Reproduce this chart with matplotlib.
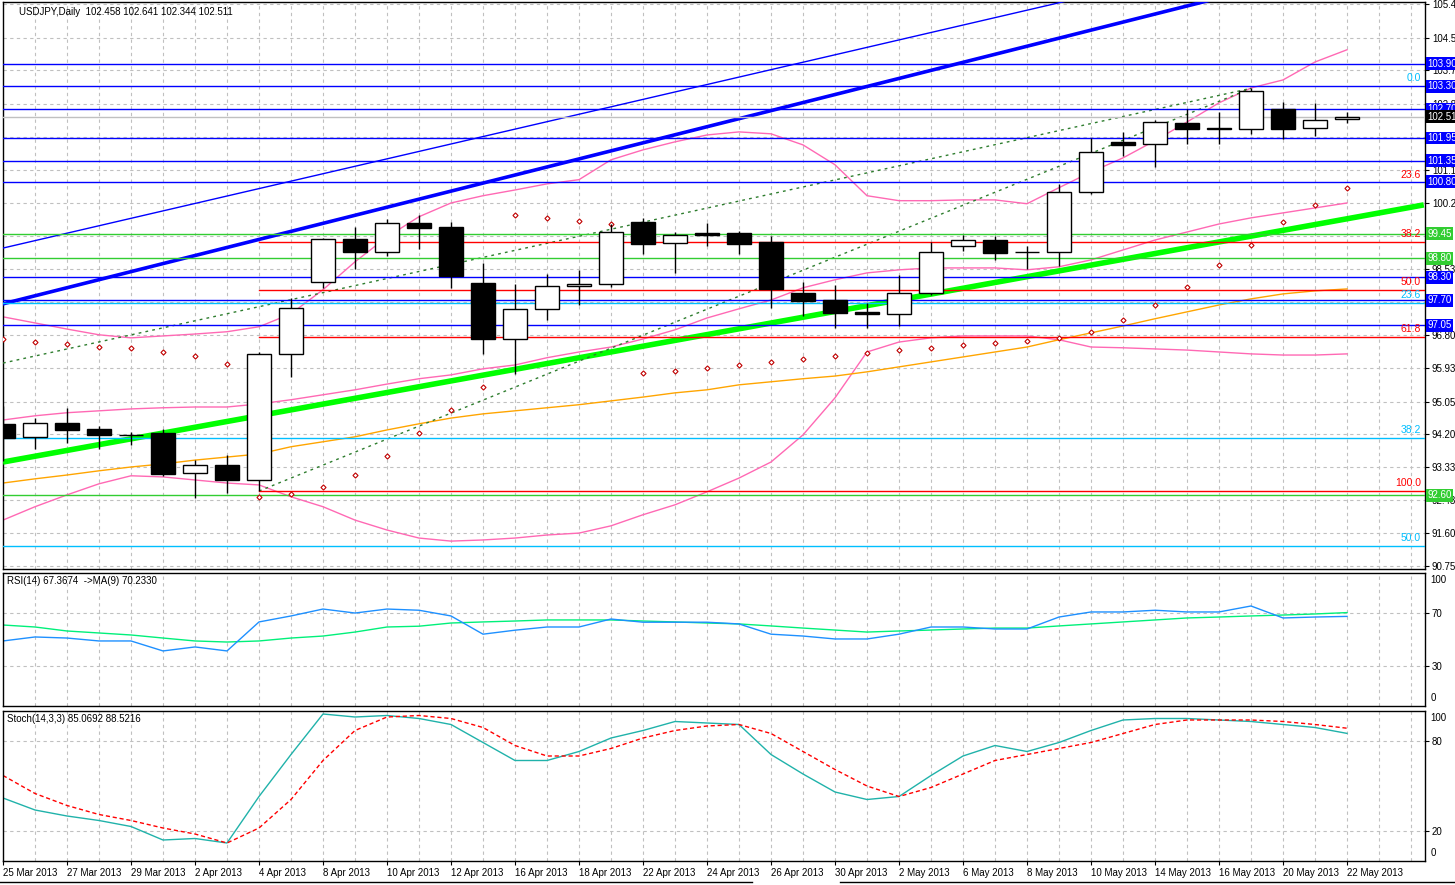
import matplotlib
matplotlib.use("Agg")
import matplotlib.pyplot as plt
import numpy as np
from matplotlib.transforms import blended_transform_factory as blend
from matplotlib.lines import Line2D

plt.rcParams['font.family'] = ['Liberation Sans', 'DejaVu Sans']

# USDJPY daily bars, 25 Mar 2013 .. 22 May 2013
opens = [94.46, 94.12, 94.49, 94.33, 94.18, 94.23, 93.18, 93.39, 93.00, 96.30,
         98.18, 99.30, 98.96, 99.72, 99.62, 98.15, 96.69, 97.47, 98.07, 98.13,
         99.75, 99.20, 99.46, 99.46, 99.22, 97.89, 97.71, 97.40, 97.34, 97.89,
         99.12, 99.28, 98.96, 98.96, 100.53, 101.84, 101.79, 102.34, 102.20, 102.18,
         102.70, 102.21, 102.458]
highs = [94.94, 94.62, 94.88, 94.41, 94.26, 94.33, 93.52, 93.65, 96.35, 97.76,
         99.33, 99.62, 99.83, 99.93, 99.75, 98.68, 98.13, 98.39, 98.49, 99.70,
         99.85, 99.49, 99.72, 99.51, 99.38, 98.18, 98.10, 97.63, 98.36, 99.22,
         99.41, 99.38, 99.12, 100.74, 101.95, 102.10, 102.42, 102.70, 102.63, 103.25,
         102.89, 102.86, 102.641]
lows = [93.50, 93.81, 93.97, 93.81, 93.92, 93.10, 92.53, 92.66, 92.71, 95.69,
        98.02, 98.52, 98.86, 99.04, 98.02, 96.30, 95.77, 97.18, 97.58, 98.05,
        98.91, 98.41, 99.12, 98.91, 97.50, 97.29, 96.98, 96.98, 97.03, 97.84,
        98.99, 98.75, 98.52, 98.60, 100.48, 101.47, 101.19, 101.79, 101.79, 102.05,
        101.92, 101.99, 102.344]
closes = [94.10, 94.49, 94.31, 94.18, 94.18, 93.16, 93.39, 93.00, 96.30, 97.50,
          99.30, 98.96, 99.72, 99.59, 98.34, 96.69, 97.47, 98.07, 98.13, 99.49,
          99.17, 99.41, 99.41, 99.17, 97.99, 97.68, 97.37, 97.34, 97.89, 98.96,
          99.28, 98.94, 98.96, 100.53, 101.58, 101.76, 102.36, 102.18, 102.18, 103.17,
          102.18, 102.42, 102.511]

bb_upper = [97.27, 97.11, 96.95, 96.80, 96.72, 96.77, 96.82, 96.88, 97.01, 97.35,
            97.98, 98.71, 99.36, 99.89, 100.25, 100.44, 100.59, 100.75, 100.86, 101.38,
            101.64, 101.85, 102.03, 102.11, 102.06, 101.77, 101.25, 100.44, 100.31, 100.31,
            100.33, 100.33, 100.23, 100.65, 101.06, 101.43, 101.88, 102.37, 102.87, 103.26,
            103.47, 103.94, 104.26]
bb_middle = [94.57, 94.68, 94.76, 94.81, 94.86, 94.89, 94.91, 94.91, 94.99, 95.10,
             95.23, 95.36, 95.51, 95.65, 95.75, 95.91, 96.01, 96.20, 96.35, 96.48,
             96.69, 96.93, 97.24, 97.48, 97.71, 98.03, 98.24, 98.42, 98.50, 98.55,
             98.55, 98.55, 98.50, 98.58, 98.76, 99.02, 99.28, 99.49, 99.70, 99.86,
             99.99, 100.12, 100.25]
bb_lower = [91.95, 92.30, 92.61, 92.90, 93.11, 93.08, 93.00, 92.92, 92.87, 92.56,
            92.30, 91.95, 91.69, 91.48, 91.40, 91.43, 91.48, 91.56, 91.61, 91.80,
            92.09, 92.35, 92.69, 93.05, 93.47, 94.18, 95.15, 96.35, 96.61, 96.72,
            96.77, 96.77, 96.77, 96.67, 96.48, 96.46, 96.43, 96.40, 96.35, 96.30,
            96.27, 96.27, 96.30]
ma_slow = [92.92, 93.03, 93.13, 93.24, 93.34, 93.42, 93.52, 93.60, 93.68, 93.87,
           94.00, 94.13, 94.31, 94.47, 94.62, 94.73, 94.81, 94.89, 94.97, 95.07,
           95.17, 95.28, 95.36, 95.49, 95.57, 95.65, 95.72, 95.83, 95.96, 96.09,
           96.22, 96.35, 96.48, 96.67, 96.85, 97.03, 97.22, 97.40, 97.58, 97.74,
           97.87, 97.95, 98.00]
sar = [96.69, 96.61, 96.56, 96.48, 96.46, 96.35, 96.25, 96.04, 92.56, 92.63,
       92.82, 93.13, 93.63, 94.23, 94.83, 95.44, 99.94, 99.86, 99.78, 99.70,
       95.80, 95.85, 95.93, 96.01, 96.09, 96.17, 96.25, 96.33, 96.41, 96.46,
       96.54, 96.59, 96.64, 96.72, 96.88, 97.19, 97.58, 98.05, 98.63, 99.15,
       99.76, 100.20, 100.65]

rsi = [48.9, 51.9, 51.1, 48.9, 48.9, 41.4, 44.4, 41.4, 63.2, 67.7,
       72.9, 69.9, 72.9, 72.0, 67.7, 54.0, 57.0, 59.4, 59.4, 65.4,
       63.0, 63.0, 63.0, 61.7, 54.0, 52.6, 50.4, 50.4, 54.0, 59.4,
       59.4, 57.9, 57.9, 66.9, 70.7, 70.7, 72.0, 70.7, 70.7, 75.2,
       66.2, 66.9, 67.37]
rsi_ma = [60.9, 59.4, 56.4, 54.9, 53.4, 51.1, 48.9, 48.1, 48.9, 51.1,
          52.6, 55.6, 59.4, 60.0, 62.4, 63.2, 63.9, 64.7, 64.7, 64.7,
          63.9, 63.2, 62.4, 61.7, 60.2, 58.6, 57.1, 55.6, 56.4, 57.1,
          57.9, 58.6, 58.6, 60.2, 61.7, 63.2, 64.7, 66.2, 66.9, 67.7,
          68.4, 69.2, 70.23]
stoch_main = [42, 34, 30, 27, 23, 14, 15, 12, 43, 71,
              98, 96, 97, 95, 91, 79, 67, 67, 73, 82,
              87, 93, 92, 91, 71, 58, 46, 41, 43, 57,
              70, 77, 73, 79, 87, 94, 95, 95, 94, 93,
              91, 89, 85.07]
stoch_signal = [57, 45, 37, 31, 27, 22, 18, 12, 22, 41,
                67, 87, 96, 97, 95, 89, 77, 70, 70, 75,
                82, 87, 90, 91, 85, 73, 61, 50, 43, 49,
                58, 67, 71, 75, 79, 85, 91, 94, 94, 94,
                93, 91, 88.52]

date_labels = ["25 Mar 2013", "27 Mar 2013", "29 Mar 2013", "2 Apr 2013", "4 Apr 2013",
               "8 Apr 2013", "10 Apr 2013", "12 Apr 2013", "16 Apr 2013", "18 Apr 2013",
               "22 Apr 2013", "24 Apr 2013", "26 Apr 2013", "30 Apr 2013", "2 May 2013",
               "6 May 2013", "8 May 2013", "10 May 2013", "14 May 2013", "16 May 2013",
               "20 May 2013", "22 May 2013"]
date_ticks = [0, 2, 4, 6, 8, 10, 12, 14, 16, 18, 20, 22, 24, 26, 28, 30, 32, 34, 36, 38, 40, 42]

price_ticks = [90.75, 91.60, 92.48, 93.33, 94.20, 95.05, 95.93, 96.80, 97.66, 98.53,
               99.39, 100.26, 101.12, 101.98, 102.85, 103.72, 104.58, 105.45]
# labels hidden under the level tags are left blank
price_tick_labels = ["90.75", "91.60", "92.48", "93.33", "94.20", "95.05", "95.93", "96.80",
                     "", "98.53", "", "100.26", "101.12", "", "102.85",
                     "103.72", "104.58", "105.45"]

blue_levels = [103.90, 103.30, 102.70, 101.95, 101.35, 100.80, 98.30, 97.70, 97.05]
blue_labels = ["103.90", "103.30", "102.70", "101.95", "101.35", "100.80", "98.30", "97.70", "97.05"]
green_levels = [99.45, 98.80, 92.60]
green_labels = ["99.45", "98.80", "92.60"]
bid_price = 102.511

# fibonacci retracements
fib_red_start, fib_red_low, fib_red_high = 8, 92.71, 103.25
fib_red_levels = [23.6, 38.2, 50.0, 61.8, 100.0]
fib_cyan_low, fib_cyan_high = 79.20, 103.32
fib_cyan_levels = [0.0, 23.6, 38.2, 50.0]

# trend lines: (bar, price) anchors
thin_blue = [(0, 99.07), (33.0, 105.49)]
thick_blue = [(0, 97.61), (37.4, 105.49)]
thick_green = [(0, 93.47), (44.4, 100.20)]
dotted_1 = [(8, 92.71), (39, 103.25)]
dotted_2 = [(0, 96.06), (39, 103.25)]

W, H = 1455, 885
fig = plt.figure(figsize=(W / 100, H / 100), dpi=100)


def rect(x0, y0, x1, y1):
    return [x0 / W, 1 - y1 / H, (x1 - x0) / W, (y1 - y0) / H]


x_max = (1425 - 3) / 32
ax = fig.add_axes(rect(3, 2, 1425, 569))
ax_rsi = fig.add_axes(rect(3, 573, 1425, 706))
ax_st = fig.add_axes(rect(3, 711, 1425, 861))

grid_kw = dict(color="#c0c0c0", lw=0.8, ls=(0, (3, 3)), zorder=0)
for a in (ax, ax_rsi, ax_st):
    a.set_xlim(0, x_max)
    for s in a.spines.values():
        s.set_color("black")
        s.set_linewidth(1)
    for i in range(1, 45):
        a.axvline(i, **grid_kw)
    a.yaxis.tick_right()
    a.tick_params(axis="y", length=3, pad=2, labelsize=7, colors="black")
    a.tick_params(axis="x", length=0, labelbottom=False)

# ---- main price panel ----
ax.set_ylim(90.67, 105.51)
ax.set_yticks(price_ticks)
ax.set_yticklabels(price_tick_labels)
for p in price_ticks:
    ax.axhline(p, **grid_kw)

idx = np.arange(len(opens))
o = np.array(opens)
c = np.array(closes)

ax.plot(idx, bb_upper, color="#ff69b4", lw=1, zorder=2)
ax.plot(idx, bb_middle, color="#ff69b4", lw=1, zorder=2)
ax.plot(idx, bb_lower, color="#ff69b4", lw=1, zorder=2)
ax.plot(idx, ma_slow, color="#ffa500", lw=1, zorder=2)

for line, lw in ((thin_blue, 1), (thick_blue, 2.6)):
    (x0, y0), (x1, y1) = line
    k = (y1 - y0) / (x1 - x0)
    ax.plot([x0, x_max], [y0, y0 + k * (x_max - x0)], color="#0000ff", lw=lw, zorder=3)
(x0, y0), (x1, y1) = thick_green
ax.plot([x0, x1], [y0, y1], color="#00ff00", lw=4, zorder=3, solid_capstyle="butt")
for line in (dotted_1, dotted_2):
    ax.plot([p[0] for p in line], [p[1] for p in line], color="#2e7d2e", lw=1,
            ls=(0, (2, 3)), zorder=3)

tr = blend(ax.transAxes, ax.transData)
for lvl in blue_levels:
    ax.axhline(lvl, color="#0000ff", lw=1, zorder=3)
for lvl in green_levels:
    ax.axhline(lvl, color="#32cd32", lw=1, zorder=3)
ax.axhline(bid_price, color="#c0c0c0", lw=1, zorder=3)

rng = fib_red_high - fib_red_low
for lv in fib_red_levels:
    y = fib_red_high - rng * lv / 100
    if lv >= 38.2:
        ax.plot([fib_red_start, x_max], [y, y], color="#ff0000", lw=1, zorder=3)
    ax.text(0.997, y + 0.08, f"{lv:.1f}", transform=tr, ha="right", va="bottom",
            color="#ff0000", fontsize=7.5, zorder=4)
rng_c = fib_cyan_high - fib_cyan_low
for lv in fib_cyan_levels:
    y = fib_cyan_high - rng_c * lv / 100
    if lv > 0:
        ax.axhline(y, color="#00bfff", lw=1, zorder=3)
    ax.text(0.997, y + 0.08, f"{lv:.1f}", transform=tr, ha="right", va="bottom",
            color="#00bfff", fontsize=7.5, zorder=4)

ax.plot(idx, sar, ls="none", marker="D", ms=2.6, mfc="white", mec="#c00000",
        mew=0.8, zorder=4)

# candles
ax.vlines(idx, lows, highs, color="black", lw=1, zorder=5)
ax.bar(idx, np.abs(c - o), bottom=np.minimum(o, c), width=0.75,
       color=np.where(c >= o, "white", "black"), edgecolor="black", lw=1, zorder=6)


def tag(a, y, text, fc):
    a.text(1.0017, y, text, transform=blend(a.transAxes, a.transData), ha="left",
           va="center", color="white", fontsize=7, zorder=10, clip_on=False,
           bbox=dict(boxstyle="square,pad=0.15", fc=fc, ec="none"))


for lvl, lab in zip(blue_levels, blue_labels):
    tag(ax, lvl, lab, "#0000ff")
for lvl, lab in zip(green_levels, green_labels):
    tag(ax, lvl, lab, "#32cd32")
tag(ax, bid_price, f"{bid_price:.3f}", "black")

ax.text(0.011, 0.982, "USDJPY,Daily  102.458 102.641 102.344 102.511",
        transform=ax.transAxes, fontsize=7, va="center", ha="left")

# ---- RSI panel ----
ax_rsi.set_ylim(0, 100)
ax_rsi.set_yticks([70, 30])
ax_rsi.set_yticklabels(["70", "30"])
for v in (70, 30):
    ax_rsi.axhline(v, **grid_kw)
ax_rsi.plot(idx, rsi_ma, color="#00f07a", lw=1)
ax_rsi.plot(idx, rsi, color="#1e90ff", lw=1)
ax_rsi.text(1.004, 0.985, "100", transform=ax_rsi.transAxes, fontsize=7, va="top")
ax_rsi.text(1.004, 0.02, "0", transform=ax_rsi.transAxes, fontsize=7, va="bottom")
ax_rsi.text(0.003, 0.94, "RSI(14) 67.3674  ->MA(9) 70.2330", transform=ax_rsi.transAxes,
            fontsize=7, va="center")

# ---- Stochastic panel ----
ax_st.set_ylim(0, 100)
ax_st.set_yticks([80, 20])
ax_st.set_yticklabels(["80", "20"])
for v in (80, 20):
    ax_st.axhline(v, **grid_kw)
ax_st.plot(idx, stoch_main, color="#20b2aa", lw=1)
ax_st.plot(idx, stoch_signal, color="#ff0000", lw=1, ls=(0, (3, 2)))
ax_st.text(1.004, 0.985, "100", transform=ax_st.transAxes, fontsize=7, va="top")
ax_st.text(1.004, 0.02, "0", transform=ax_st.transAxes, fontsize=7, va="bottom")
ax_st.text(0.003, 0.95, "Stoch(14,3,3) 85.0692 88.5216", transform=ax_st.transAxes,
           fontsize=7, va="center")
ax_st.set_xticks(date_ticks)
ax_st.set_xticklabels(date_labels, ha="left")
ax_st.tick_params(axis="x", length=3, pad=2, labelsize=7, labelbottom=True, direction="out")

# bottom tab strip
fig.add_artist(Line2D([0, 752 / W], [1 - 882 / H] * 2, color="black", lw=1))
fig.add_artist(Line2D([840 / W, 1], [1 - 882 / H] * 2, color="black", lw=1))

fig.savefig("out.png", dpi=100)
